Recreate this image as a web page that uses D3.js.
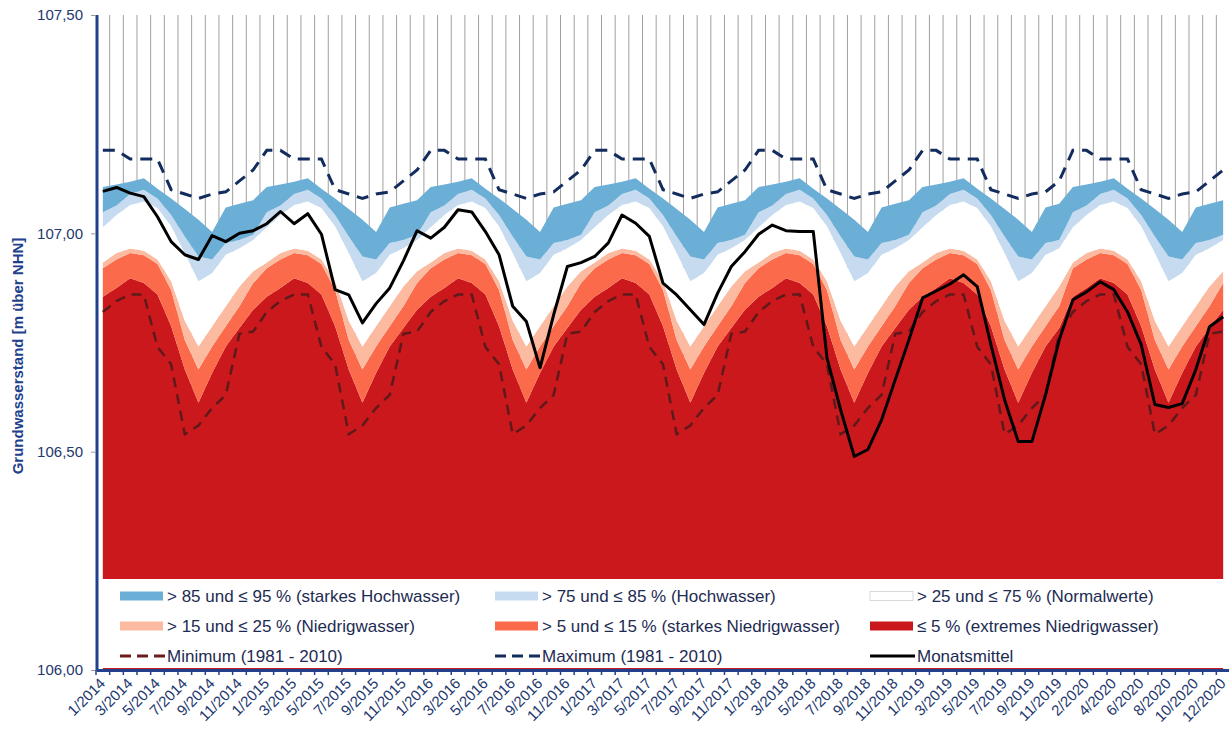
<!DOCTYPE html>
<html>
  <head>
    <title>Grundwasserstand</title>
    <meta charset="utf-8">
    <script src="https://d3js.org/d3.v7.min.js"></script>
    <style>
      body { margin: 0; background: #fff; }
      svg { font-family: "Liberation Sans", Arial, sans-serif; }
    </style>
  </head>

  <body>

    <svg width="1229" height="729"></svg>

    <script>

      // Monate der Reihe (12/2019 fehlt)
      var months = [
        "1/2014","2/2014","3/2014","4/2014","5/2014","6/2014","7/2014","8/2014","9/2014","10/2014","11/2014","12/2014",
        "1/2015","2/2015","3/2015","4/2015","5/2015","6/2015","7/2015","8/2015","9/2015","10/2015","11/2015","12/2015",
        "1/2016","2/2016","3/2016","4/2016","5/2016","6/2016","7/2016","8/2016","9/2016","10/2016","11/2016","12/2016",
        "1/2017","2/2017","3/2017","4/2017","5/2017","6/2017","7/2017","8/2017","9/2017","10/2017","11/2017","12/2017",
        "1/2018","2/2018","3/2018","4/2018","5/2018","6/2018","7/2018","8/2018","9/2018","10/2018","11/2018","12/2018",
        "1/2019","2/2019","3/2019","4/2019","5/2019","6/2019","7/2019","8/2019","9/2019","10/2019","11/2019",
        "1/2020","2/2020","3/2020","4/2020","5/2020","6/2020","7/2020","8/2020","9/2020","10/2020","11/2020","12/2020"
      ];

      // Monatsmittel [m über NHN]
      var monatsmittel = [
        107.096, 107.105, 107.092, 107.084, 107.038, 106.981, 106.951, 106.940, 106.995, 106.981, 107.000, 107.006,
        107.022, 107.050, 107.022, 107.045, 106.998, 106.871, 106.859, 106.795, 106.839, 106.875, 106.937, 107.006,
        106.989, 107.014, 107.054, 107.049, 107.004, 106.951, 106.833, 106.798, 106.692, 106.814, 106.924, 106.933,
        106.947, 106.978, 107.042, 107.023, 106.993, 106.886, 106.859, 106.825, 106.791, 106.863, 106.924, 106.958,
        106.998, 107.019, 107.006, 107.004, 107.004, 106.715, 106.596, 106.489, 106.505, 106.573, 106.665, 106.756,
        106.852, 106.868, 106.884, 106.905, 106.878, 106.745, 106.619, 106.523, 106.523, 106.630, 106.756,
        106.848, 106.866, 106.889, 106.871, 106.820, 106.745, 106.608, 106.601, 106.610, 106.688, 106.786, 106.809
      ];

      // Kennwerte 1981 - 2010 je Kalendermonat (Jan ... Dez)
      var p95 = [107.106, 107.112, 107.118, 107.126, 107.102, 107.080, 107.056, 107.031, 107.003, 107.059, 107.068, 107.076];
      var p85 = [107.048, 107.064, 107.090, 107.100, 107.080, 107.042, 106.993, 106.947, 106.940, 106.978, 106.985, 106.997];
      var p75 = [107.014, 107.042, 107.065, 107.073, 107.058, 107.016, 106.955, 106.890, 106.909, 106.951, 106.966, 106.985];
      var p25 = [106.933, 106.955, 106.965, 106.960, 106.940, 106.890, 106.800, 106.741, 106.787, 106.833, 106.878, 106.913];
      var p15 = [106.920, 106.940, 106.955, 106.950, 106.930, 106.870, 106.756, 106.688, 106.741, 106.787, 106.833, 106.886];
      var p05 = [106.855, 106.875, 106.897, 106.886, 106.860, 106.787, 106.688, 106.612, 106.680, 106.741, 106.783, 106.825];
      var maximum = [107.190, 107.190, 107.170, 107.170, 107.170, 107.100, 107.090, 107.080, 107.090, 107.095, 107.120, 107.145];
      var minimum = [106.820, 106.845, 106.860, 106.860, 106.740, 106.700, 106.540, 106.560, 106.600, 106.630, 106.770, 106.775];

      var yTicks = [106.0, 106.5, 107.0, 107.5];

      var axisColor = "#22408c",
          textColor = "#23386e";

      var svg = d3.select("svg"),
          margin = {top: 15, right: -1, bottom: 59, left: 96},
          width = +svg.attr("width") - margin.left - margin.right,
          height = +svg.attr("height") - margin.top - margin.bottom;

      var x = d3.scaleBand()
          .domain(d3.range(months.length))
          .range([0, width]);

      var y = d3.scaleLinear()
          .domain([106, 107.5])
          .range([height, 0]);

      function monthOf(i) { return +months[i].split("/")[0] - 1; }
      function cx(i) { return x(i) + x.bandwidth() / 2; }
      function clim(arr) { return months.map(function(m, i) { return arr[monthOf(i)]; }); }

      var g = svg.append("g").attr("transform", "translate(" + margin.left + "," + margin.top + ")");

      // vertikale Gitterlinien zwischen den Monaten
      g.append("g")
          .selectAll("line")
          .data(d3.range(1, months.length))
        .enter().append("line")
          .attr("x1", function(i) { return x(i); })
          .attr("x2", function(i) { return x(i); })
          .attr("y1", 0)
          .attr("y2", height)
          .attr("stroke", "#a0a0a0")
          .attr("stroke-width", 1);

      // Baender
      var bands = [
        {lo: null, hi: p05, color: "#cb181d"},
        {lo: p05, hi: p15, color: "#fb6a4a"},
        {lo: p15, hi: p25, color: "#fcbba1"},
        {lo: p25, hi: p75, color: "#ffffff"},
        {lo: p75, hi: p85, color: "#c6dbef"},
        {lo: p85, hi: p95, color: "#6baed6"}
      ];

      bands.forEach(function(b) {
        var lo = b.lo ? clim(b.lo) : null,
            hi = clim(b.hi);
        var area = d3.area()
            .x(function(d, i) { return cx(i); })
            .y0(function(d, i) { return lo ? y(lo[i]) : y(106); })
            .y1(function(d, i) { return y(hi[i]); });
        g.append("path")
            .datum(months)
            .attr("d", area)
            .attr("fill", b.color);
      });

      var line = d3.line()
          .x(function(d, i) { return cx(i); })
          .y(function(d) { return y(d); });

      g.append("path")
          .datum(clim(minimum))
          .attr("d", line)
          .attr("fill", "none")
          .attr("stroke", "#5e1a1a")
          .attr("stroke-width", 2.5)
          .attr("stroke-dasharray", "10,7");

      g.append("path")
          .datum(clim(maximum))
          .attr("d", line)
          .attr("fill", "none")
          .attr("stroke", "#132c5e")
          .attr("stroke-width", 3)
          .attr("stroke-dasharray", "12,8");

      g.append("path")
          .datum(monatsmittel)
          .attr("d", line)
          .attr("fill", "none")
          .attr("stroke", "#000")
          .attr("stroke-width", 3)
          .attr("stroke-linejoin", "round");

      // Legende (liegt im Diagramm)
      var legendItems = [
        {label: "> 85 und \u2264 95 % (starkes Hochwasser)", type: "rect", color: "#6baed6"},
        {label: "> 75 und \u2264 85 % (Hochwasser)", type: "rect", color: "#c6dbef"},
        {label: "> 25 und \u2264 75 % (Normalwerte)", type: "rect", color: "#ffffff"},
        {label: "> 15 und \u2264 25 % (Niedrigwasser)", type: "rect", color: "#fcbba1"},
        {label: "> 5 und \u2264 15 % (starkes Niedrigwasser)", type: "rect", color: "#fb6a4a"},
        {label: "\u2264 5 % (extremes Niedrigwasser)", type: "rect", color: "#cb181d"},
        {label: "Minimum (1981 - 2010)", type: "dash", color: "#6e1b1b"},
        {label: "Maximum (1981 - 2010)", type: "dash", color: "#132c5e"},
        {label: "Monatsmittel", type: "line", color: "#000"}
      ];

      var legend = svg.append("g").attr("transform", "translate(100,579)");
      legend.append("rect")
          .attr("width", 1129)
          .attr("height", 89)
          .attr("fill", "#fff");

      var item = legend.selectAll(".item")
          .data(legendItems)
        .enter().append("g")
          .attr("class", "item")
          .attr("transform", function(d, i) { return "translate(" + (20 + (i % 3) * 375) + "," + (17 + Math.floor(i / 3) * 30) + ")"; });

      item.filter(function(d) { return d.type == "rect"; }).append("rect")
          .attr("x", 0)
          .attr("y", -4.5)
          .attr("width", 43)
          .attr("height", 9)
          .attr("fill", function(d) { return d.color; })
          .attr("stroke", function(d) { return d.color == "#ffffff" ? "#d0d0d0" : "none"; })
          .attr("stroke-width", 0.8);

      item.filter(function(d) { return d.type != "rect"; }).append("line")
          .attr("x1", 0)
          .attr("x2", 45)
          .attr("y1", 0)
          .attr("y2", 0)
          .attr("stroke", function(d) { return d.color; })
          .attr("stroke-width", 3)
          .attr("stroke-dasharray", function(d) { return d.type == "dash" ? "11,6" : null; });

      item.append("text")
          .attr("x", 47)
          .attr("y", 0)
          .attr("dy", "0.35em")
          .attr("fill", "#1d2b52")
          .style("font-size", "17px")
          .text(function(d) { return d.label; });

      // Y-Achse
      var yAxis = g.append("g")
          .call(d3.axisLeft(y)
            .tickValues(yTicks)
            .tickSize(5)
            .tickPadding(8)
            .tickFormat(function(d) { return d3.format(".2f")(d).replace(".", ","); }));
      yAxis.select(".domain").attr("stroke", axisColor).attr("stroke-width", 3).attr("d", "M1,0V" + height);
      yAxis.selectAll(".tick line").attr("stroke", "#9a9a9a");
      yAxis.selectAll(".tick text").attr("fill", textColor).style("font-size", "15px");

      // X-Achse
      var xAxis = g.append("g")
          .attr("transform", "translate(0," + height + ")")
          .call(d3.axisBottom(x)
            .tickValues(d3.range(0, months.length, 2))
            .tickSize(0)
            .tickFormat(function(i) { return months[i]; }));
      xAxis.select(".domain").attr("stroke", axisColor).attr("stroke-width", 3);
      xAxis.selectAll(".tick text")
          .attr("fill", textColor)
          .style("font-size", "15px")
          .attr("text-anchor", "end")
          .attr("x", 0)
          .attr("y", 0)
          .attr("dy", "0.32em")
          .attr("transform", "translate(0,11) rotate(-45)");

      xAxis.append("g")
          .selectAll("line")
          .data(d3.range(0, months.length + 1))
        .enter().append("line")
          .attr("x1", function(i) { return i < months.length ? x(i) : width; })
          .attr("x2", function(i) { return i < months.length ? x(i) : width; })
          .attr("y1", 0)
          .attr("y2", 5)
          .attr("stroke", axisColor)
          .attr("stroke-width", 1.5);

      // Achsentitel
      svg.append("text")
          .attr("transform", "translate(23,356) rotate(-90)")
          .attr("text-anchor", "middle")
          .attr("fill", axisColor)
          .style("font-size", "15px")
          .style("font-weight", "bold")
          .text("Grundwasserstand [m über NHN]");

    </script>
  </body>
</html>
